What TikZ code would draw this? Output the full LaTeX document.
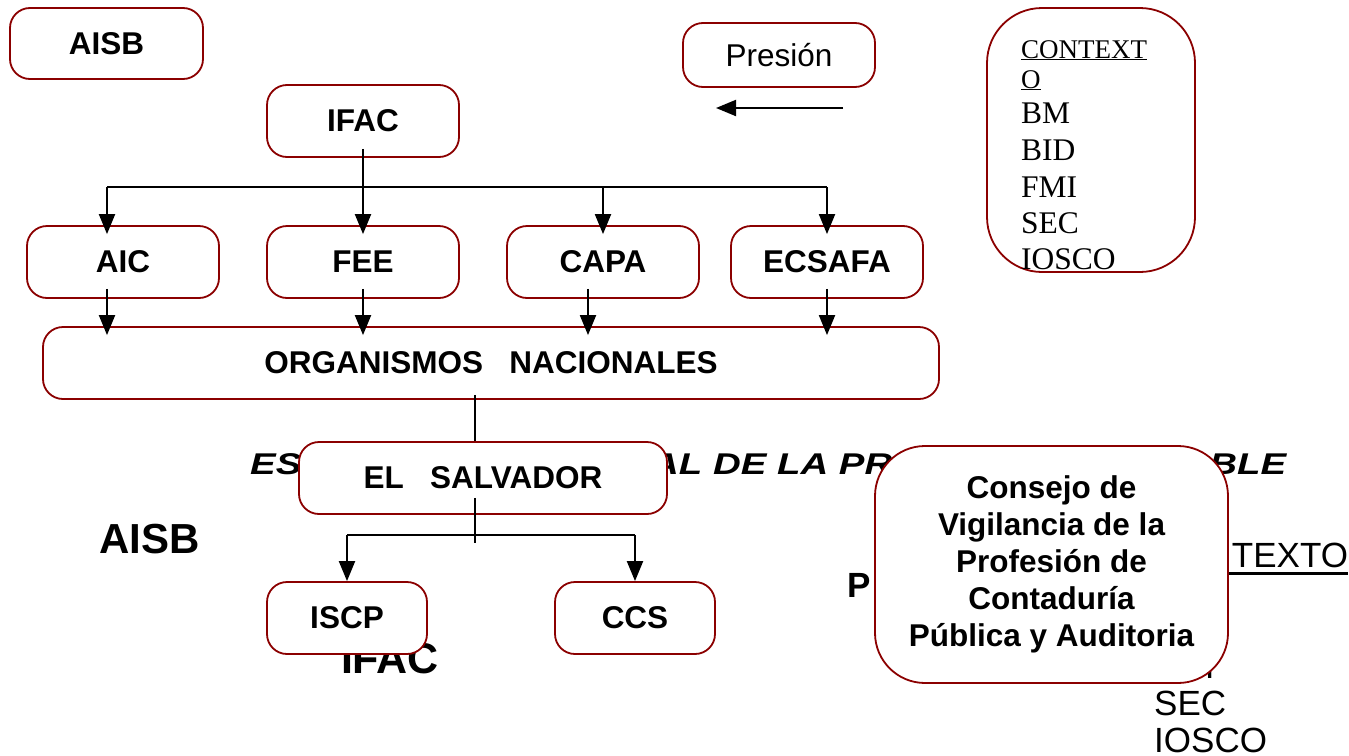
\documentclass[tikz,border=0pt]{standalone}
\usepackage{fontspec}
\setmainfont{Liberation Sans}
\newfontfamily\timesfont{Liberation Serif}
\usetikzlibrary{arrows.meta}
\definecolor{boxred}{HTML}{8B0000}
\newcommand\subraya[3]{\setbox0\hbox{#3}\rlap{\rule[-#1]{\wd0}{#2}}\box0}

\begin{document}
\begin{tikzpicture}[x=1pt,y=-1pt,
  orgbox/.style={draw=boxred, line width=1.8pt, fill=white, rounded corners=20pt,
    minimum width=192pt, minimum height=72pt, inner sep=0pt, align=center,
    font=\fontsize{31.5}{37}\selectfont\bfseries},
  flecha/.style={-{Triangle[width=16pt,length=20pt]}, line width=2pt},
  linea/.style={line width=2pt},
  fondo/.style={inner sep=0pt, font=\fontsize{35}{37}\selectfont},
  lista/.style={anchor=base west, inner sep=0pt, font=\timesfont\fontsize{31.5}{36}\selectfont}
]
\useasboundingbox (0,0) rectangle (1349,755);

% Texts left behind the boxes
\node[fondo, anchor=base west, font=\fontsize{30}{30}\selectfont\bfseries\itshape] (titulo) at (250,474)
  {\scalebox{1.28}[1]{ESTRUCTURA MUNDIAL DE LA PROFESIÓN CONTABLE}};
\node[fondo, anchor=base, font=\fontsize{42}{43}\selectfont\bfseries] (aisbfondo) at (149.5,553) {AISB};
\node[fondo, anchor=base, font=\fontsize{43}{44}\selectfont\bfseries] (ifacfondo) at (390,673) {IFAC};
\node[fondo, anchor=base west, font=\fontsize{35}{36}\selectfont\bfseries] (pfondo) at (847,597) {P};
\node[fondo, anchor=base west] (fondoA) at (1154,567) {\subraya{7.5pt}{3pt}{CONTEXTO}};
\foreach \t/\y in {BM/604, BID/641, FMI/678, SEC/715, IOSCO/752}
  \node[fondo, anchor=base west] (fondo\t) at (1154,\y) {\t};

% Boxes
\node[orgbox, minimum width=193pt, minimum height=71pt] (aisb) at (106.5,43.5) {AISB};
\node[orgbox] (ifac) at (363,121) {IFAC};
\node[orgbox, minimum height=64pt, font=\fontsize{31.5}{37}\selectfont] (presion) at (779,55) {Presión};
\node[orgbox, minimum width=208pt, minimum height=264pt, rounded corners=55pt] (contexto) at (1091,140) {};
\node[orgbox] (aic) at (123,262) {AIC};
\node[orgbox] (fee) at (363,262) {FEE};
\node[orgbox] (capa) at (603,262) {CAPA};
\node[orgbox] (ecsafa) at (827,262) {ECSAFA};
\node[orgbox, minimum width=896pt] (organismos) at (491,363) {ORGANISMOS\ \ \ NACIONALES};
\node[orgbox, minimum width=368pt] (salvador) at (483,478) {EL\ \ \ SALVADOR};
\node[orgbox, minimum width=160pt] (iscp) at (347,618) {ISCP};
\node[orgbox, minimum width=160pt] (ccs) at (635,618) {CCS};
\node[orgbox, minimum width=353pt, minimum height=237pt, rounded corners=50pt] (consejo) at (1051.5,564.5)
  {Consejo de\\Vigilancia de la\\Profesión de\\Contaduría\\Pública y Auditoria};

% List inside the context box
\node[lista, font=\timesfont\fontsize{27}{30}\selectfont] (listaA) at (1021,58) {\subraya{2pt}{1.5pt}{CONTEXT}};
\node[lista, font=\timesfont\fontsize{27}{30}\selectfont] (listaB) at (1021,88) {\subraya{2pt}{1.5pt}{O}};
\foreach \t/\y in {BM/123, BID/160, FMI/197, SEC/233, IOSCO/269}
  \node[lista] (lista\t) at (1021,\y) {\t};

% Pressure arrow
\coordinate (presA) at (843,108);
\coordinate (presB) at (716,108);
\draw[flecha] (presA) -- (presB);

% IFAC to the regional bodies
\coordinate (bus1) at (107,187);
\coordinate (bus1r) at (827,187);
\draw[linea] (bus1) -- (bus1r);
\draw[linea, shorten <=-9pt] (ifac.south) -- (ifac.south |- bus1);
\draw[flecha, shorten >=-9pt] (bus1) -- (bus1 |- aic.north);
\draw[flecha, shorten >=-9pt] (ifac.south |- bus1) -- (fee.north);
\draw[flecha, shorten >=-9pt] (capa.north |- bus1) -- (capa.north);
\draw[flecha, shorten >=-9pt] (bus1r) -- (ecsafa.north);

% Regional bodies to national bodies
\draw[flecha, shorten <=-10pt, shorten >=-9pt] (bus1 |- aic.south) -- (bus1 |- organismos.north);
\draw[flecha, shorten <=-10pt, shorten >=-9pt] (fee.south) -- (fee.south |- organismos.north);
\draw[flecha, shorten <=-10pt, shorten >=-9pt] ([xshift=-15pt]capa.south) -- ([xshift=-15pt]capa.south |- organismos.north);
\draw[flecha, shorten <=-10pt, shorten >=-9pt] (ecsafa.south) -- (ecsafa.south |- organismos.north);

% National bodies to El Salvador
\draw[linea, shorten <=-5pt] ([xshift=-16pt]organismos.south) -- ([xshift=-16pt]organismos.south |- salvador.north);
\coordinate (bus2) at (475,535);
\draw[linea, shorten <=-17pt, shorten >=-8pt] ([xshift=-8pt]salvador.south) -- (bus2);
\draw[linea] (iscp.north |- bus2) -- (ccs.north |- bus2);
\draw[flecha] (iscp.north |- bus2) -- (iscp.north);
\draw[flecha] (ccs.north |- bus2) -- (ccs.north);
\end{tikzpicture}
\end{document}
